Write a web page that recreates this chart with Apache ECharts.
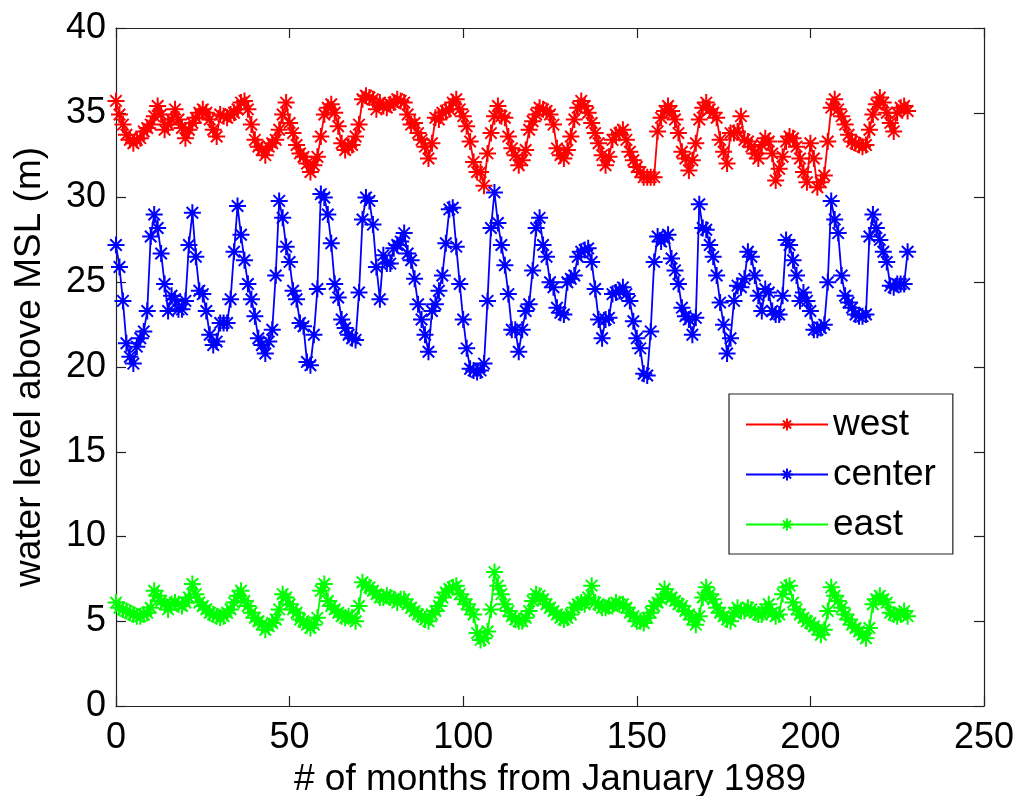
<!DOCTYPE html>
<html>
<head>
<meta charset="utf-8">
<script src="https://cdn.jsdelivr.net/npm/echarts@6/dist/echarts.min.js"></script>
<style>
html,body{margin:0;padding:0;background:#fff;}
#chart{width:1018px;height:796px;}
</style>
</head>
<body>
<div id="chart"></div>
<script>
var seriesNames = ['west', 'center', 'east'];
var xTicks = [0, 50, 100, 150, 200, 250];
var yTicks = [0, 5, 10, 15, 20, 25, 30, 35, 40];

var west = [35.7,34.9,34.3,33.7,33.4,33.2,33.4,33.5,33.9,34.1,
34.3,34.8,35.4,34.9,34.0,34.3,34.6,35.2,34.6,34.1,
33.5,34.0,34.4,34.7,35.0,35.2,35.0,34.6,34.0,33.6,
34.9,34.8,34.7,34.9,35.0,35.2,35.6,35.7,35.2,34.3,
33.4,33.0,32.8,32.5,33.0,33.2,33.4,34.0,34.9,35.6,
34.4,33.8,33.1,32.6,32.4,32.0,31.5,31.9,32.4,33.6,
34.9,35.3,35.5,35.0,34.2,33.2,32.8,33.0,33.1,33.6,
34.3,35.8,36.0,35.9,35.8,35.2,35.6,35.4,35.3,35.5,
35.6,35.8,35.7,35.6,34.9,34.3,34.4,33.8,33.4,33.0,
32.3,33.2,34.7,34.6,35.0,35.1,35.2,35.6,35.8,35.2,
34.8,34.2,33.3,32.1,31.5,31.5,30.7,32.6,33.8,34.8,
35.4,34.8,34.7,33.6,32.9,32.5,31.9,32.2,32.8,34.0,
34.5,34.9,35.3,35.2,35.1,34.9,34.3,32.9,32.5,32.3,
32.8,33.6,34.6,35.3,35.7,35.4,35.0,34.4,33.8,33.2,
32.5,31.9,32.4,33.4,33.7,33.8,34.0,33.4,32.7,32.2,
31.8,31.5,31.2,31.2,31.2,31.2,33.9,34.7,35.1,35.4,
35.1,34.6,33.8,32.7,32.3,31.6,32.2,33.2,34.6,35.3,
35.6,35.2,35.0,34.7,33.4,32.7,32.0,33.8,33.8,33.9,
34.8,33.4,33.3,33.0,32.6,32.3,33.1,33.5,33.3,32.6,
31.0,31.7,32.4,33.3,33.6,33.5,33.0,32.3,31.5,30.9,
33.2,32.3,30.6,30.9,31.3,33.3,35.3,35.8,35.2,34.8,
34.3,33.7,33.3,33.2,33.1,33.0,33.1,34.0,34.9,35.5,
35.9,35.6,35.0,34.4,33.9,35.0,35.3,35.4,35.1];

var center = [27.2,25.9,23.9,21.4,20.6,20.2,21.2,21.7,22.1,23.3,
27.7,29.0,28.2,26.7,24.9,23.3,24.2,24.0,23.4,23.4,
23.9,27.2,29.1,26.5,24.5,24.3,23.3,21.9,21.3,21.5,
22.6,22.6,22.6,24.0,26.8,29.5,27.8,26.3,24.9,24.0,
23.0,21.7,21.3,20.8,21.5,22.2,25.4,29.8,28.8,27.1,
26.2,24.5,24.0,22.6,22.4,20.3,20.1,21.9,24.6,30.2,
30.0,29.0,27.3,24.9,24.1,22.8,22.3,21.9,21.7,21.6,
24.4,28.7,30.0,29.8,28.4,25.9,24.0,26.6,26.1,26.1,
27.0,27.2,27.4,27.9,26.7,26.3,25.2,23.7,22.8,21.9,
20.9,23.3,23.7,24.5,25.4,27.3,29.3,29.4,27.1,24.9,
22.8,21.1,19.9,19.8,19.7,19.8,20.2,23.9,28.2,30.3,
28.5,27.2,26.0,24.3,22.2,22.2,20.9,22.2,23.3,23.7,
25.7,28.2,28.8,27.2,26.5,25.0,24.7,23.5,23.2,23.1,
25.0,25.2,25.4,26.5,26.8,26.9,27.0,26.2,24.6,22.8,
21.7,22.8,22.9,24.3,24.4,24.5,24.7,24.3,23.9,22.7,
21.7,21.1,19.6,19.5,22.1,26.2,27.7,27.4,27.6,27.8,
26.4,25.7,24.9,23.5,23.0,22.8,21.9,22.9,29.6,28.2,
28.1,27.2,26.5,25.4,23.8,22.5,20.8,21.7,23.9,24.8,
24.7,25.2,26.8,26.5,25.4,24.2,23.3,24.6,24.4,23.3,
23.1,23.1,24.2,27.5,27.2,26.3,25.4,23.9,24.4,23.9,
23.3,22.2,22.2,22.3,22.5,25.0,29.8,28.7,27.9,25.4,
24.2,23.8,23.5,23.1,23.0,23.0,23.1,27.7,29.0,28.2,
27.5,26.8,26.2,24.8,24.7,24.9,24.9,24.9,26.8];

var east = [6.1,5.8,5.7,5.6,5.5,5.4,5.3,5.3,5.4,5.5,
5.8,6.8,6.5,6.2,6.0,5.7,6.0,6.1,6.0,5.9,
6.1,6.4,7.2,6.6,6.1,5.9,5.7,5.5,5.4,5.3,
5.2,5.3,5.5,5.7,6.1,6.5,6.8,6.2,5.9,5.5,
5.2,5.0,4.8,4.5,4.7,4.9,5.1,5.7,6.6,6.4,
6.0,5.7,5.5,5.1,5.0,4.8,4.6,4.8,5.2,6.8,
7.2,6.2,5.9,5.7,5.5,5.3,5.2,5.3,5.2,5.0,
5.9,7.3,7.1,7.0,6.8,6.6,6.4,6.4,6.5,6.4,
6.3,6.1,6.3,6.3,6.0,5.8,5.6,5.4,5.3,5.1,
5.0,5.4,5.6,5.9,6.4,6.7,6.9,7.0,7.1,6.6,
6.3,6.0,5.7,5.4,4.3,3.9,4.0,4.4,5.7,7.9,
7.1,6.6,6.0,5.6,5.3,5.1,5.0,5.0,5.2,5.6,
6.2,6.6,6.5,6.3,6.0,5.8,5.6,5.4,5.2,5.1,
5.2,5.4,5.8,6.0,6.1,6.0,6.4,7.1,6.1,6.0,
5.8,5.8,5.9,5.9,6.1,6.0,6.0,5.8,5.5,5.3,
5.0,5.0,4.9,5.2,5.5,5.9,6.1,6.3,6.9,6.6,
6.4,6.2,6.0,5.9,5.6,5.4,5.1,4.8,5.3,6.4,
7.0,6.6,6.3,5.8,5.5,5.3,5.1,5.0,5.5,5.8,
5.6,5.6,5.8,5.7,5.5,5.4,5.4,5.7,6.0,5.5,
5.3,5.4,6.6,7.0,7.1,6.1,5.7,5.4,5.2,5.0,
4.9,4.7,4.5,4.2,4.5,5.6,7.0,6.5,6.2,5.8,
5.4,5.1,4.8,4.6,4.4,4.2,4.0,4.6,6.0,6.3,
6.5,6.3,6.1,5.5,5.4,5.3,5.4,5.6,5.3];

var colors = ['#ff0000', '#0000ff', '#00ff00'];
var FONT = '"Liberation Sans", Arial, sans-serif';
var STAR = 'path://M8,0L8,16M0,8L16,8M2.6,2.6L13.4,13.4M2.6,13.4L13.4,2.6';

function pairs(arr) {
  var out = [];
  for (var i = 0; i < arr.length; i++) out.push([i, arr[i]]);
  return out;
}

function mkSeries(name, arr, color) {
  return {
    name: name,
    type: 'line',
    xAxisIndex: 0,
    yAxisIndex: 0,
    data: pairs(arr),
    symbol: STAR,
    symbolSize: 17,
    showAllSymbol: true,
    lineStyle: { color: color, width: 1.8 },
    itemStyle: { color: color, borderColor: color, borderWidth: 2 },
    emphasis: { disabled: true },
    z: 3
  };
}

var chart = echarts.init(document.getElementById('chart'), null, { renderer: 'canvas' });
var axisLineStyle = { color: '#222', width: 1.2 };
var option = {
  animation: false,
  backgroundColor: '#fff',
  grid: { left: 116, right: 34, top: 28, bottom: 90, containLabel: false, outerBoundsMode: 'none' },
  legend: {
    orient: 'vertical',
    left: 729,
    top: 394,
    data: seriesNames,
    backgroundColor: '#fff',
    borderColor: '#222',
    borderWidth: 1.2,
    padding: [12, 17, 11, 16],
    itemGap: 13,
    itemWidth: 82,
    itemHeight: 15,
    textStyle: { fontFamily: FONT, fontSize: 37, color: '#000', lineHeight: 37 }
  },
  xAxis: [{
    type: 'value',
    position: 'bottom',
    min: xTicks[0],
    max: xTicks[xTicks.length - 1],
    interval: 50,
    name: '# of months from January 1989',
    nameLocation: 'middle',
    nameGap: 52,
    nameTextStyle: { fontFamily: FONT, fontSize: 37, color: '#000' },
    axisLine: { show: true, onZero: false, lineStyle: axisLineStyle },
    axisTick: { show: true, inside: true, length: 10, lineStyle: axisLineStyle },
    axisLabel: { fontFamily: FONT, fontSize: 36, color: '#000', margin: 14 },
    splitLine: { show: false }
  }, {
    type: 'value',
    position: 'top',
    min: xTicks[0],
    max: xTicks[xTicks.length - 1],
    interval: 50,
    axisLine: { show: true, onZero: false, lineStyle: axisLineStyle },
    axisTick: { show: true, inside: true, length: 10, lineStyle: axisLineStyle },
    axisLabel: { show: false },
    splitLine: { show: false }
  }],
  yAxis: [{
    type: 'value',
    position: 'left',
    min: yTicks[0],
    max: yTicks[yTicks.length - 1],
    interval: 5,
    name: 'water level above MSL (m)',
    nameLocation: 'middle',
    nameGap: 68,
    nameTextStyle: { fontFamily: FONT, fontSize: 37, color: '#000' },
    axisLine: { show: true, onZero: false, lineStyle: axisLineStyle },
    axisTick: { show: true, inside: true, length: 10, lineStyle: axisLineStyle },
    axisLabel: { fontFamily: FONT, fontSize: 36, color: '#000', margin: 10 },
    splitLine: { show: false }
  }, {
    type: 'value',
    position: 'right',
    min: yTicks[0],
    max: yTicks[yTicks.length - 1],
    interval: 5,
    axisLine: { show: true, onZero: false, lineStyle: axisLineStyle },
    axisTick: { show: true, inside: true, length: 10, lineStyle: axisLineStyle },
    axisLabel: { show: false },
    splitLine: { show: false }
  }],
  series: [
    mkSeries(seriesNames[0], west, colors[0]),
    mkSeries(seriesNames[1], center, colors[1]),
    mkSeries(seriesNames[2], east, colors[2])
  ]
};
chart.setOption(option);
</script>
</body>
</html>
